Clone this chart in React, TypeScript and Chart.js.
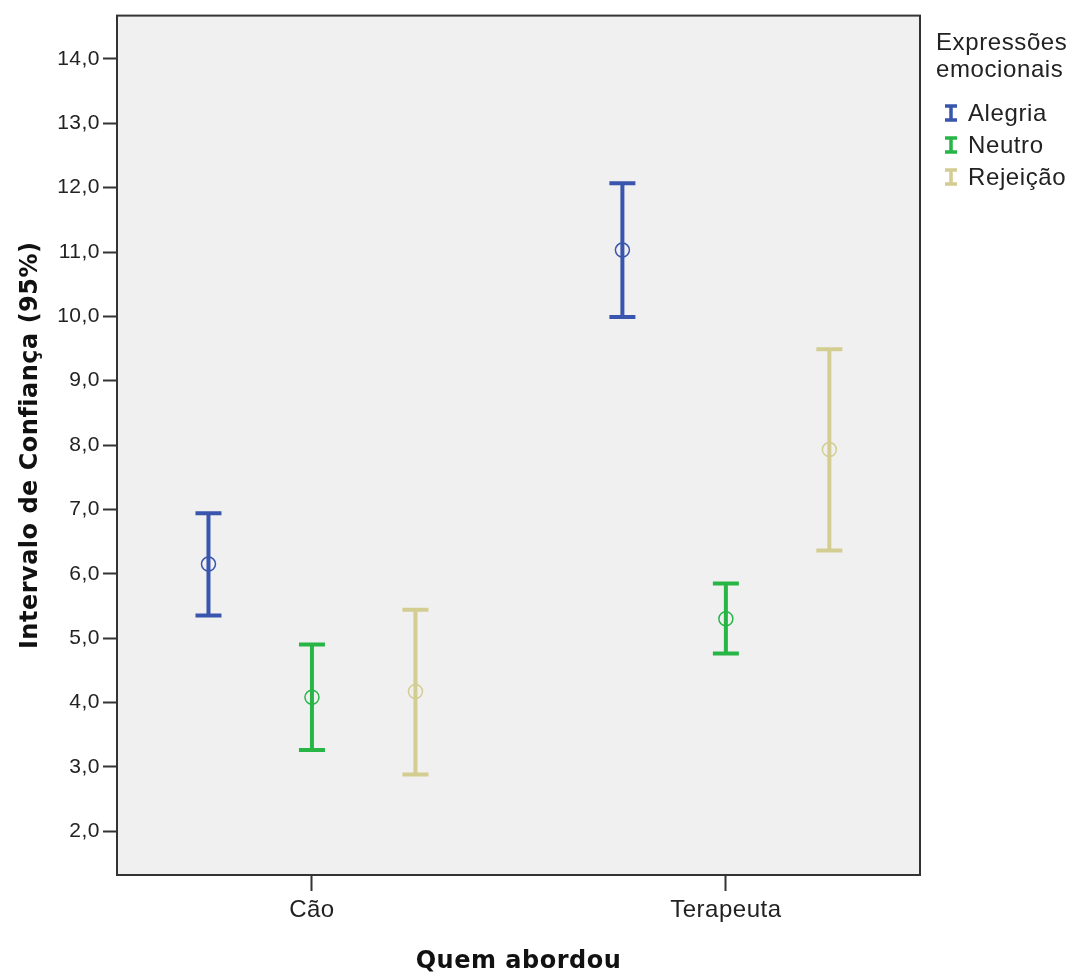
import React, { useEffect, useRef } from "react";
import { Chart, registerables } from "chart.js";

Chart.register(...registerables);

const categories = ["Cão", "Terapeuta"];
const seriesNames = ["Alegria", "Neutro", "Rejeição"];
const seriesColors = ["#3A55AD", "#27B646", "#D4CD92"];

const alegriaMean = [6.15, 11.03];
const alegriaLow = [5.35, 9.99];
const alegriaHigh = [6.94, 12.07];

const neutroMean = [4.08, 5.3];
const neutroLow = [3.26, 4.76];
const neutroHigh = [4.9, 5.85];

const rejeicaoMean = [4.17, 7.93];
const rejeicaoLow = [2.88, 6.36];
const rejeicaoHigh = [5.44, 9.49];

const yTicks = [2, 3, 4, 5, 6, 7, 8, 9, 10, 11, 12, 13, 14];
const legendTitle = ["Expressões", "emocionais"];
const xTitle = "Quem abordou";
const yTitle = "Intervalo de Confiança (95%)";

const FONT = "'Liberation Sans', Arial, sans-serif";
const BOLD_FONT = "'DejaVu Sans', sans-serif";
const groupOffsets = [-0.25, 0, 0.25];

const means = [alegriaMean, neutroMean, rejeicaoMean];
const lows = [alegriaLow, neutroLow, rejeicaoLow];
const highs = [alegriaHigh, neutroHigh, rejeicaoHigh];

const spacingPlugin = {
  id: "spacing",
  beforeDraw(chart: any) {
    (chart.ctx as any).letterSpacing = "0.5px";
  },
};

const bgPlugin = {
  id: "bgFrame",
  beforeDatasetsDraw(chart: any) {
    const { ctx, chartArea: a } = chart;
    ctx.save();
    ctx.fillStyle = "#F0F0F0";
    ctx.fillRect(a.left, a.top, a.right - a.left, a.bottom - a.top);
    ctx.strokeStyle = "#333333";
    ctx.lineWidth = 2;
    ctx.strokeRect(a.left, a.top, a.right - a.left, a.bottom - a.top);
    ctx.restore();
  },
};

const errorBarPlugin = {
  id: "errorBars",
  beforeDatasetsDraw(chart: any) {
    const { ctx } = chart;
    const xs = chart.scales.x;
    const ys = chart.scales.y;
    ctx.save();
    chart.data.datasets.forEach((ds: any) => {
      ds.data.forEach((pt: any, i: number) => {
        const px = xs.getPixelForValue(pt.x);
        const pLo = ys.getPixelForValue(ds.low[i]);
        const pHi = ys.getPixelForValue(ds.high[i]);
        ctx.strokeStyle = ds.borderColor;
        ctx.lineWidth = 4;
        ctx.lineCap = "butt";
        ctx.beginPath();
        ctx.moveTo(px, pLo);
        ctx.lineTo(px, pHi);
        ctx.moveTo(px - 13, pLo);
        ctx.lineTo(px + 13, pLo);
        ctx.moveTo(px - 13, pHi);
        ctx.lineTo(px + 13, pHi);
        ctx.stroke();
      });
    });
    ctx.restore();
  },
};

const legendPlugin = {
  id: "customLegend",
  afterDraw(chart: any) {
    const { ctx, chartArea: a } = chart;
    ctx.save();
    (ctx as any).letterSpacing = "0.6px";
    ctx.fillStyle = "#222222";
    ctx.font = `24px ${FONT}`;
    ctx.textBaseline = "middle";
    ctx.textAlign = "left";
    const x0 = a.right + 16;
    legendTitle.forEach((t, i) => ctx.fillText(t, x0, 43 + i * 27));
    seriesNames.forEach((name, i) => {
      const cy = 113 + i * 32;
      const gx = 951;
      ctx.strokeStyle = seriesColors[i];
      ctx.lineWidth = 3.5;
      ctx.beginPath();
      ctx.moveTo(gx, cy - 7);
      ctx.lineTo(gx, cy + 7);
      ctx.moveTo(gx - 6, cy - 7);
      ctx.lineTo(gx + 6, cy - 7);
      ctx.moveTo(gx - 6, cy + 7);
      ctx.lineTo(gx + 6, cy + 7);
      ctx.stroke();
      ctx.fillStyle = "#222222";
      ctx.fillText(name, 968, cy + 1);
    });
    ctx.restore();
  },
};

export default function App() {
  const ref = useRef<HTMLCanvasElement | null>(null);

  useEffect(() => {
    document.body.style.margin = "0";
    if (!ref.current) return;
    const datasets = seriesNames.map((name, s) => ({
      label: name,
      data: categories.map((_, i) => ({ x: i + groupOffsets[s], y: means[s][i] })),
      low: lows[s],
      high: highs[s],
      borderColor: seriesColors[s],
      backgroundColor: "rgba(0,0,0,0)",
      pointRadius: 7,
      pointHoverRadius: 7,
      pointBorderWidth: 1.5,
      pointStyle: "circle",
      showLine: false,
    }));

    const chart = new Chart(ref.current, {
      type: "scatter",
      data: { datasets: datasets as any },
      options: {
        animation: false,
        responsive: true,
        maintainAspectRatio: false,
        layout: { padding: { top: 13, right: 158, left: 0, bottom: 0 } },
        plugins: {
          legend: { display: false },
          tooltip: { enabled: false },
        },
        scales: {
          x: {
            type: "linear",
            min: -0.471,
            max: 1.469,
            afterFit: (s: any) => {
              s.height = 99;
            },
            afterBuildTicks: (s: any) => {
              s.ticks = categories.map((_, i) => ({ value: i }));
            },
            border: { display: false },
            grid: {
              drawOnChartArea: false,
              drawTicks: true,
              tickLength: 16,
              tickColor: "#333333",
              tickWidth: 2,
              color: "#333333",
            } as any,
            ticks: {
              padding: 5,
              color: "#222222",
              font: { family: FONT, size: 24 },
              callback: (v: any) => categories[Math.round(Number(v))] ?? "",
            },
            title: {
              display: true,
              text: xTitle,
              color: "#111111",
              font: { family: BOLD_FONT, size: 24, weight: "bold", lineHeight: 1 },
              padding: { top: 0, bottom: 0 },
            },
          },
          y: {
            type: "linear",
            min: 1.318,
            max: 14.674,
            afterFit: (s: any) => {
              s.width = 117;
            },
            afterBuildTicks: (s: any) => {
              s.ticks = yTicks.map((v) => ({ value: v }));
            },
            border: { display: false },
            grid: {
              drawOnChartArea: false,
              drawTicks: true,
              tickLength: 14,
              tickColor: "#333333",
              tickWidth: 2,
              color: "#333333",
            } as any,
            ticks: {
              padding: 3,
              color: "#222222",
              font: { family: FONT, size: 21 },
              callback: (v: any) => Number(v).toFixed(1).replace(".", ","),
            },
            title: {
              display: true,
              text: yTitle,
              color: "#111111",
              font: { family: BOLD_FONT, size: 24, weight: "bold", lineHeight: 1.2 },
              padding: { top: 16, bottom: 0 },
            },
          },
        },
      },
      plugins: [spacingPlugin, bgPlugin, errorBarPlugin, legendPlugin],
    });
    return () => chart.destroy();
  }, []);

  return (
    <div style={{ position: "relative", width: "1078px", height: "974px", background: "#ffffff" }}>
      <canvas ref={ref} />
    </div>
  );
}
